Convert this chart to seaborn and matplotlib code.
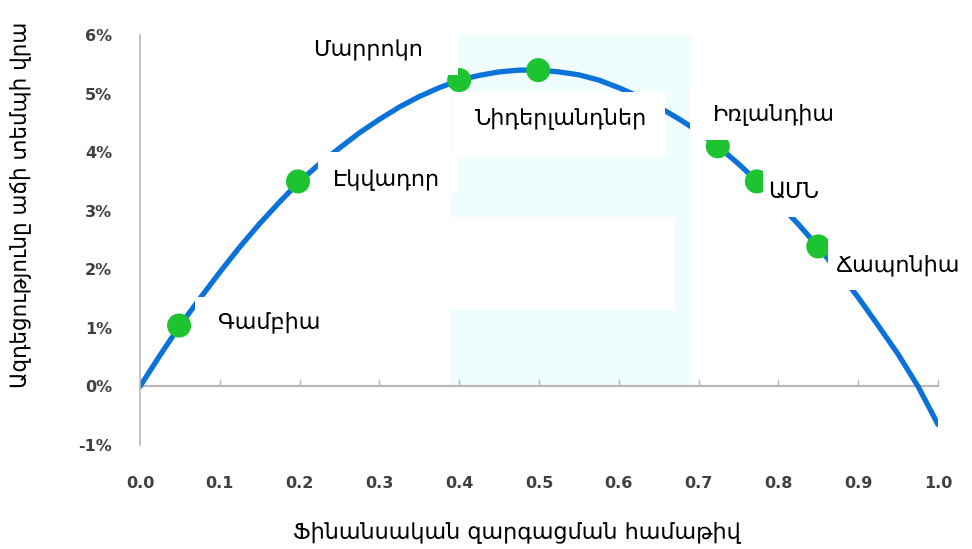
import matplotlib
matplotlib.use("Agg")
import matplotlib.pyplot as plt
from matplotlib.patches import Rectangle
import seaborn as sns
import pandas as pd

# ---- data ----
curve_x = [0.0, 0.025, 0.05, 0.075, 0.1, 0.125, 0.15, 0.175, 0.2, 0.225, 0.25, 0.275, 0.3, 0.325,
           0.35, 0.375, 0.4, 0.425, 0.45, 0.475, 0.5, 0.525, 0.55, 0.575, 0.6, 0.625, 0.65, 0.675,
           0.7, 0.725, 0.75, 0.775, 0.8, 0.825, 0.85, 0.875, 0.9, 0.925, 0.95, 0.975, 1.0]
curve_y = [0.0, 0.53, 1.04, 1.50, 1.95, 2.38, 2.78, 3.15, 3.50, 3.80, 4.07, 4.33, 4.56, 4.77,
           4.95, 5.10, 5.23, 5.31, 5.37, 5.40, 5.40, 5.37, 5.32, 5.23, 5.10, 4.95, 4.77, 4.57,
           4.35, 4.09, 3.80, 3.48, 3.13, 2.77, 2.38, 1.96, 1.52, 1.04, 0.55, 0.0, -0.65]

countries = ["Գամբիա", "Էկվադոր", "Մարրոկո", "Նիդերլանդներ", "Իռլանդիա", "ԱՄՆ", "Ճապոնիա"]
country_x = [0.049, 0.198, 0.400, 0.499, 0.724, 0.773, 0.850]
country_y = [1.04, 3.50, 5.23, 5.40, 4.10, 3.50, 2.39]

# label anchor positions (data coords, left edge / vertical centre)
label_x = [0.098, 0.242, 0.217, 0.420, 0.718, 0.787, 0.872]
label_y = [1.09, 3.52, 5.74, 4.58, 4.65, 3.32, 2.07]

# white label boxes: (x0, x1, y0, y1) in data coords
box_x0 = [0.069, 0.223, 0.200, 0.391, 0.689, 0.781, 0.862]
box_x1 = [0.238, 0.397, 0.398, 0.658, 0.915, 0.877, 1.040]
box_y0 = [0.70, 3.30, 5.32, 3.91, 4.21, 2.89, 1.64]
box_y1 = [1.52, 4.00, 6.00, 5.03, 5.06, 3.78, 2.50]

x_ticks = [0.0, 0.1, 0.2, 0.3, 0.4, 0.5, 0.6, 0.7, 0.8, 0.9, 1.0]
x_ticklabels = ["0.0", "0.1", "0.2", "0.3", "0.4", "0.5", "0.6", "0.7", "0.8", "0.9", "1.0"]
y_ticks = [-1, 0, 1, 2, 3, 4, 5, 6]
y_ticklabels = ["-1%", "0%", "1%", "2%", "3%", "4%", "5%", "6%"]

x_label = "Ֆինանսական զարգացման համաթիվ"
y_label = "Ազդեցությունը աճի տեմպի վրա"

curve_df = pd.DataFrame({"x": curve_x, "y": curve_y})
pts_df = pd.DataFrame({"x": country_x, "y": country_y, "country": countries})

sns.set_style("white")
plt.rcParams["font.family"] = ["DejaVu Sans"]

fig = plt.figure(figsize=(9.72, 5.49), dpi=100)
ax = fig.add_axes([140 / 972, 1 - 445 / 549, (938 - 140) / 972, (445 - 35) / 549])

# shaded band
ax.add_patch(Rectangle((0.39, 0.0), 0.30, 6.0, facecolor="#effdfd", edgecolor="none", zorder=0))
ax.add_patch(Rectangle((0.384, 1.30), 0.286, 1.59, facecolor="white", edgecolor="none", zorder=0.5))

sns.lineplot(data=curve_df, x="x", y="y", ax=ax, color="#0b72d9", linewidth=3.8,
             zorder=2, sort=False)
sns.scatterplot(data=pts_df, x="x", y="y", ax=ax, color="#1ec332", s=300,
                edgecolor="none", zorder=3, legend=False)

for x0, x1, y0, y1 in zip(box_x0, box_x1, box_y0, box_y1):
    ax.add_patch(Rectangle((x0, y0), x1 - x0, y1 - y0, facecolor="white",
                           edgecolor="none", zorder=4, clip_on=False))

for name, lx, ly in zip(countries, label_x, label_y):
    ax.text(lx, ly, name, fontsize=16, ha="left", va="center", color="black",
            zorder=5, clip_on=False)

ax.set_xlim(0, 1.0)
ax.set_ylim(-1, 6)
ax.set_xticks(x_ticks)
ax.set_xticklabels(x_ticklabels)
ax.set_yticks(y_ticks)
ax.set_yticklabels(y_ticklabels)
ax.tick_params(axis="x", length=0, pad=22, labelsize=11.5, labelcolor="#404040")
ax.tick_params(axis="y", length=0, pad=20, labelsize=11.5, labelcolor="#404040")
for lab in ax.get_xticklabels() + ax.get_yticklabels():
    lab.set_fontweight("semibold")

for s in ["top", "right", "bottom"]:
    ax.spines[s].set_visible(False)
ax.spines["left"].set_color("#b8b8b8")
ax.spines["left"].set_linewidth(1.2)

# zero line with tick marks
sec = ax.secondary_xaxis(1 / 7)
sec.set_xticks(x_ticks)
sec.set_xticklabels([])
sec.tick_params(axis="x", direction="in", length=5, color="#b8b8b8", width=1)
sec.spines["bottom"].set_color("#b8b8b8")
sec.spines["top"].set_color("#b8b8b8")
sec.spines["top"].set_linewidth(1.6)
sec.spines["bottom"].set_linewidth(1.6)

ax.set_xlabel(x_label, fontsize=16, color="black", va="center")
ax.set_ylabel(y_label, fontsize=15.5, color="black", va="center")
ax.xaxis.set_label_coords((517 - 140) / 798, -(532 - 445) / 410)
ax.yaxis.set_label_coords(-(140 - 20) / 798, (445 - 205) / 410)

fig.savefig("out.png", dpi=100, facecolor="white")
